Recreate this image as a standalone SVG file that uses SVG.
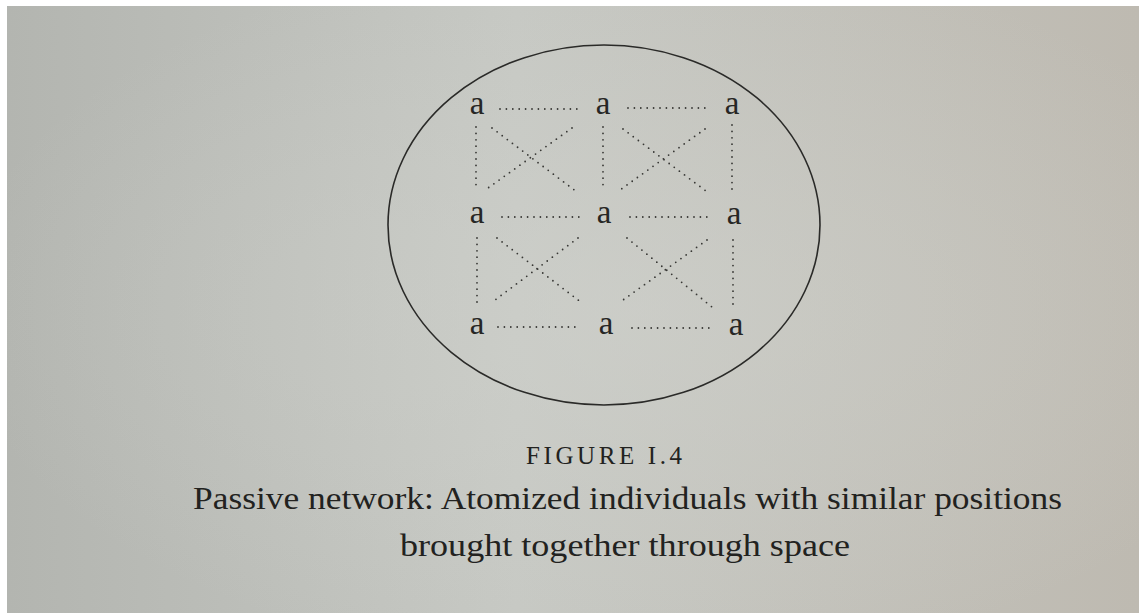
<svg xmlns="http://www.w3.org/2000/svg" width="1139" height="613" viewBox="0 0 1139 613">
  <defs>
    <linearGradient id="page" x1="0" y1="0" x2="1" y2="0">
      <stop offset="0" stop-color="#b3b5b0"/>
      <stop offset="0.45" stop-color="#c6c8c3"/>
      <stop offset="1" stop-color="#bebab1"/>
    </linearGradient>
    <radialGradient id="glow" cx="0.55" cy="0.5" r="0.6">
      <stop offset="0" stop-color="#d2d4cf" stop-opacity="0.5"/>
      <stop offset="1" stop-color="#d2d4cf" stop-opacity="0"/>
    </radialGradient>
    <style>
      .node { font-family: "Liberation Serif", "DejaVu Serif", serif; font-size: 33px; fill: #262624; text-anchor: middle; }
      .dot { fill: none; stroke: #383835; stroke-width: 1.8; stroke-linecap: round; stroke-dasharray: 0 6.4; }
      .cap { font-family: "Liberation Serif", "DejaVu Serif", serif; fill: #222220; }
    </style>
  </defs>
  <rect x="0" y="0" width="1139" height="613" fill="#ffffff"/>
  <rect x="7" y="6" width="1132" height="607" fill="url(#page)"/>
  <rect x="7" y="6" width="1132" height="607" fill="url(#glow)"/>

  <ellipse id="boundary" cx="604" cy="225" rx="216" ry="180" fill="none" stroke="#2a2a28" stroke-width="1.6"/>

  <g id="connectors">
    <line class="dot" x1="500" y1="109" x2="580" y2="109"/>
    <line class="dot" x1="628" y1="108" x2="708" y2="108"/>
    <line class="dot" x1="502" y1="217" x2="582" y2="217"/>
    <line class="dot" x1="630" y1="217" x2="712" y2="217"/>
    <line class="dot" x1="498" y1="327" x2="580" y2="327"/>
    <line class="dot" x1="632" y1="328" x2="713" y2="328"/>

    <line class="dot" x1="476" y1="127" x2="476" y2="189"/>
    <line class="dot" x1="603" y1="127" x2="603" y2="189"/>
    <line class="dot" x1="732" y1="125" x2="732" y2="190"/>
    <line class="dot" x1="477" y1="238" x2="477" y2="303"/>
    <line class="dot" x1="733" y1="240" x2="733" y2="306"/>

    <line class="dot" x1="492" y1="128" x2="577" y2="192"/>
    <line class="dot" x1="572" y1="128" x2="488" y2="188"/>
    <line class="dot" x1="623" y1="129" x2="710" y2="194"/>
    <line class="dot" x1="705" y1="129" x2="620" y2="190"/>
    <line class="dot" x1="497" y1="238" x2="582" y2="303"/>
    <line class="dot" x1="578" y1="238" x2="495" y2="300"/>
    <line class="dot" x1="627" y1="238" x2="712" y2="307"/>
    <line class="dot" x1="707" y1="240" x2="623" y2="300"/>
  </g>

  <g id="a11"><text class="node" x="477" y="114">a</text></g>
  <g id="a12"><text class="node" x="603" y="114">a</text></g>
  <g id="a13"><text class="node" x="732" y="114">a</text></g>
  <g id="a21"><text class="node" x="477" y="223">a</text></g>
  <g id="a22"><text class="node" x="604" y="223">a</text></g>
  <g id="a23"><text class="node" x="734" y="224">a</text></g>
  <g id="a31"><text class="node" x="477" y="334">a</text></g>
  <g id="a32"><text class="node" x="606" y="334">a</text></g>
  <g id="a33"><text class="node" x="736" y="335">a</text></g>

  <g id="caption">
    <text class="cap" x="526" y="464" font-size="25" textLength="156" lengthAdjust="spacing">FIGURE I.4</text>
    <text class="cap" x="193" y="509" font-size="31" textLength="869" lengthAdjust="spacingAndGlyphs">Passive network: Atomized individuals with similar positions</text>
    <text class="cap" x="400" y="556" font-size="31" textLength="450" lengthAdjust="spacingAndGlyphs">brought together through space</text>
  </g>
</svg>
